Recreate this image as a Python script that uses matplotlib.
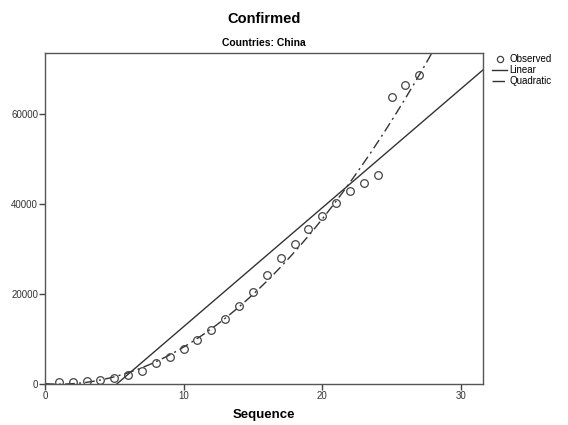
import numpy as np
import matplotlib
matplotlib.use("Agg")
import matplotlib.pyplot as plt
from matplotlib.lines import Line2D

sequence = list(range(1, 28))
confirmed = [400, 400, 600, 900, 1330, 2060, 2880, 4650, 5980, 7750,
             9740, 11890, 14330, 17270, 20440, 24290, 28060, 31160, 34480, 37200,
             40240, 42750, 44670, 46510, 63790, 66450, 68590]
x_ticks = [0, 10, 20, 30]
y_ticks = [0, 20000, 40000, 60000]
y_tick_labels = ["0", "20000", "40000", "60000"]

plt.rcParams['font.family'] = ['Liberation Sans', 'DejaVu Sans']

fig = plt.figure(figsize=(5.68, 4.25), dpi=100)
ax = fig.add_axes([0.0792, 0.0965, 0.7712, 0.7788])

x = np.array(sequence, dtype=float)
y = np.array(confirmed, dtype=float)
xlim = (0, 31.6)
ylim = (0, 73500)

# Curve-estimation fits computed from observed data
lin = np.polyfit(x, y, 1)
quad = np.polyfit(x, y, 2)
xs = np.linspace(xlim[0], xlim[1], 400)

dashdot = (0, (7, 3, 1.5, 3))
ax.plot(xs, np.polyval(lin, xs), color='#333333', lw=1.0, label='Linear')
ax.plot(xs, np.polyval(quad, xs), color='#333333', lw=1.0,
        linestyle=dashdot, label='Quadratic')
ax.plot(x, y, linestyle='none', marker='o', markersize=5.5,
        markerfacecolor='none', markeredgecolor='#444444', markeredgewidth=0.9,
        label='Observed')

ax.set_xlim(*xlim)
ax.set_ylim(*ylim)
ax.set_xticks(x_ticks)
ax.set_yticks(y_ticks)
ax.set_yticklabels(y_tick_labels)
ax.tick_params(direction='out', length=4, width=1, colors='#444444',
               labelsize=7, labelcolor='#333333', pad=1)
for s in ax.spines.values():
    s.set_color('#555555')
    s.set_linewidth(1.0)

ax.set_xlabel('Sequence', fontsize=9.5, fontweight='bold', labelpad=6)
fig.text(0.465, 0.955, 'Confirmed', ha='center', va='center',
         fontsize=10.5, fontweight='bold')
fig.text(0.465, 0.90, 'Countries: China', ha='center', va='center',
         fontsize=7.5, fontweight='bold')

handles = [
    Line2D([], [], linestyle='none', marker='o', markersize=4.5,
           markerfacecolor='none', markeredgecolor='#444444', markeredgewidth=0.9),
    Line2D([], [], color='#333333', lw=1.0),
    Line2D([], [], color='#333333', lw=1.0, linestyle=(0, (9, 3, 1.5, 3))),
]
fig.legend(handles, ['Observed', 'Linear', 'Quadratic'],
           loc='upper left', bbox_to_anchor=(0.866, 0.872),
           frameon=False, fontsize=7, handlelength=1.6, handletextpad=0.2,
           labelspacing=0.1, borderaxespad=0, borderpad=0)

fig.savefig('out.png', dpi=100)
